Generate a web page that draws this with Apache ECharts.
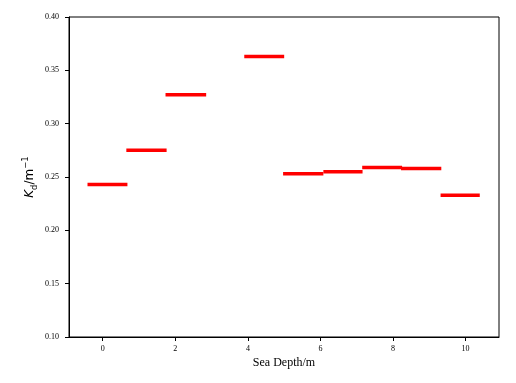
<!DOCTYPE html>
<html>
<head>
<meta charset="utf-8">
<script src="https://cdn.jsdelivr.net/npm/echarts@6/dist/echarts.min.js"></script>
<style>html,body{margin:0;padding:0;background:#fff}#c{width:516px;height:383px}</style>
</head>
<body>
<div id="c"></div>
<script>
// Depth bins (start, end) and Kd values
const segStart = [-0.42, 0.65, 1.73, 3.90, 4.97, 6.08, 7.15, 8.22, 9.31];
const segEnd   = [0.68, 1.76, 2.85, 5.00, 6.08, 7.16, 8.25, 9.33, 10.39];
const kdValues = [0.243, 0.275, 0.327, 0.363, 0.253, 0.255, 0.259, 0.258, 0.233];
const xTicks = [0, 2, 4, 6, 8, 10];
const yTicks = [0.10, 0.15, 0.20, 0.25, 0.30, 0.35, 0.40];

const data = segStart.map((s, i) => [s, segEnd[i], kdValues[i]]);
const serif = 'Liberation Serif';

const chart = echarts.init(document.getElementById('c'), null, {renderer: 'canvas'});
chart.setOption({
  animation: false,
  backgroundColor: '#fff',
  grid: {left: 69, right: 17, top: 17, bottom: 46, show: true, borderColor: '#000', borderWidth: 1, containLabel: false},
  xAxis: {
    type: 'value', min: -0.93, max: 10.92,
    name: 'Sea Depth/m', nameLocation: 'middle', nameGap: 20, nameMoveOverlap: false,
    nameTextStyle: {fontFamily: serif, fontSize: 12, color: '#000'},
    axisLine: {show: true, onZero: false, lineStyle: {color: '#000', width: 1}},
    axisTick: {show: true, length: 4, inside: false, lineStyle: {color: '#000'}, customValues: xTicks},
    axisLabel: {fontFamily: serif, fontSize: 8, color: '#000', margin: 8, customValues: xTicks, formatter: v => String(v)},
    splitLine: {show: false}
  },
  yAxis: {
    type: 'value', min: 0.10, max: 0.40, interval: 0.05,
    name: '{i|K}{sub|d}{n|/m}{sup|−1}', nameLocation: 'middle', nameGap: 30, nameRotate: 90, nameMoveOverlap: false,
    nameTextStyle: {
      color: '#000', fontFamily: 'DejaVu Sans', fontSize: 12,
      rich: {
        i: {fontFamily: 'DejaVu Sans', fontStyle: 'italic', fontSize: 12, color: '#000', lineHeight: 18, verticalAlign: 'middle'},
        n: {fontFamily: 'DejaVu Sans', fontSize: 12, color: '#000', lineHeight: 18, verticalAlign: 'middle'},
        sub: {fontFamily: 'DejaVu Sans', fontSize: 8.5, color: '#000', lineHeight: 18, verticalAlign: 'bottom'},
        sup: {fontFamily: 'DejaVu Sans', fontSize: 8.5, color: '#000', lineHeight: 18, verticalAlign: 'top'}
      }
    },
    axisLine: {show: true, onZero: false, lineStyle: {color: '#000', width: 1}},
    axisTick: {show: true, length: 4, lineStyle: {color: '#000'}},
    axisLabel: {fontFamily: serif, fontSize: 8, color: '#000', margin: 10, formatter: v => v.toFixed(2)},
    splitLine: {show: false}
  },
  series: [{
    type: 'custom',
    data: data,
    encode: {x: [0, 1], y: 2},
    renderItem: function (params, api) {
      const p1 = api.coord([api.value(0), api.value(2)]);
      const p2 = api.coord([api.value(1), api.value(2)]);
      return {
        type: 'line',
        shape: {x1: p1[0], y1: p1[1], x2: p2[0], y2: p2[1]},
        style: {stroke: '#ff0000', lineWidth: 3.5}
      };
    }
  }]
});
</script>
</body>
</html>
